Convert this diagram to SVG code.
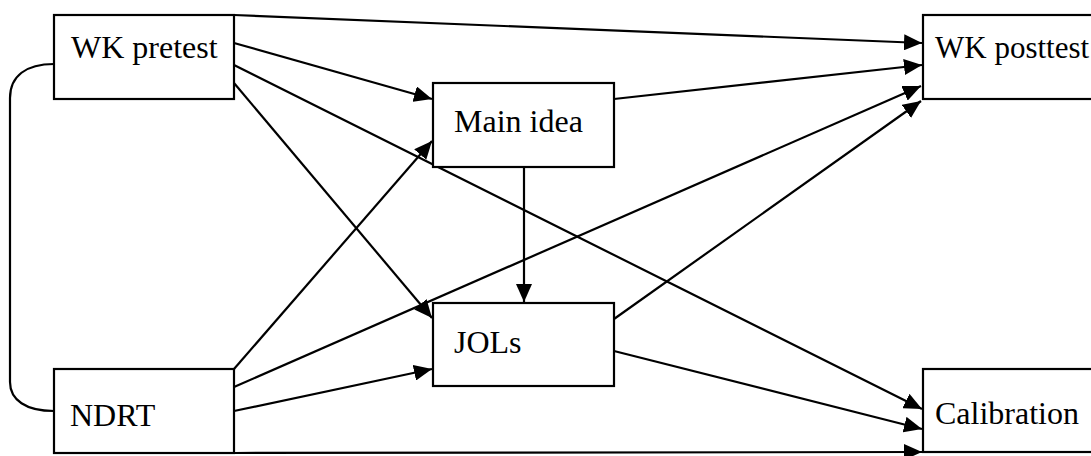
<svg xmlns="http://www.w3.org/2000/svg" width="1091" height="456" viewBox="0 0 1091 456">
<style>
.box{fill:#fff;stroke:#000;stroke-width:2.2}
.lbl{font-family:"Liberation Serif","Times New Roman",serif;font-size:32px;fill:#000}
.c{stroke:#000;stroke-width:2.2;fill:none}
.a{marker-end:url(#ah)}
</style>
<defs>
<marker id="ah" markerUnits="userSpaceOnUse" markerWidth="19" markerHeight="16" refX="18" refY="8" orient="auto">
<path d="M0,0 L18,8 L0,16 z" fill="#000"/>
</marker>
</defs>
<rect width="1091" height="456" fill="#fff"/>
<g id="connectors">
<path class="c" d="M54,64 C26,64 10,76 10,98 L10,382 C10,400 26,411 54,411"/>
<line class="c a" x1="234" y1="15" x2="922" y2="43"/>
<line class="c a" x1="234" y1="43" x2="432" y2="99"/>
<line class="c a" x1="234" y1="65" x2="922" y2="409"/>
<line class="c a" x1="234" y1="83" x2="432" y2="318"/>
<line class="c a" x1="614" y1="99" x2="922" y2="65"/>
<line class="c a" x1="234" y1="369" x2="432" y2="141"/>
<line class="c a" x1="234" y1="387" x2="921" y2="86"/>
<line class="c a" x1="234" y1="411" x2="432" y2="369"/>
<line class="c a" x1="234" y1="453" x2="922" y2="452"/>
<line class="c a" x1="524" y1="167" x2="524" y2="302"/>
<line class="c a" x1="614" y1="319" x2="921" y2="101"/>
<line class="c a" x1="614" y1="351" x2="922" y2="429"/>
</g>
<g id="wk-pretest">
<rect class="box" x="54" y="15" width="180" height="84"/>
<text class="lbl" x="71" y="58">WK pretest</text>
</g>
<g id="ndrt">
<rect class="box" x="54" y="369" width="180" height="84"/>
<text class="lbl" x="70" y="426">NDRT</text>
</g>
<g id="main-idea">
<rect class="box" x="433" y="83" width="181" height="84"/>
<text class="lbl" x="454" y="132">Main idea</text>
</g>
<g id="jols">
<rect class="box" x="433" y="303" width="181" height="83"/>
<text class="lbl" x="454" y="353">JOLs</text>
</g>
<g id="wk-posttest">
<rect class="box" x="923" y="15" width="180" height="84"/>
<text class="lbl" x="935" y="58" style="font-size:31px">WK posttest</text>
</g>
<g id="calibration">
<rect class="box" x="923" y="369" width="180" height="83"/>
<text class="lbl" x="935" y="424">Calibration</text>
</g>
</svg>
